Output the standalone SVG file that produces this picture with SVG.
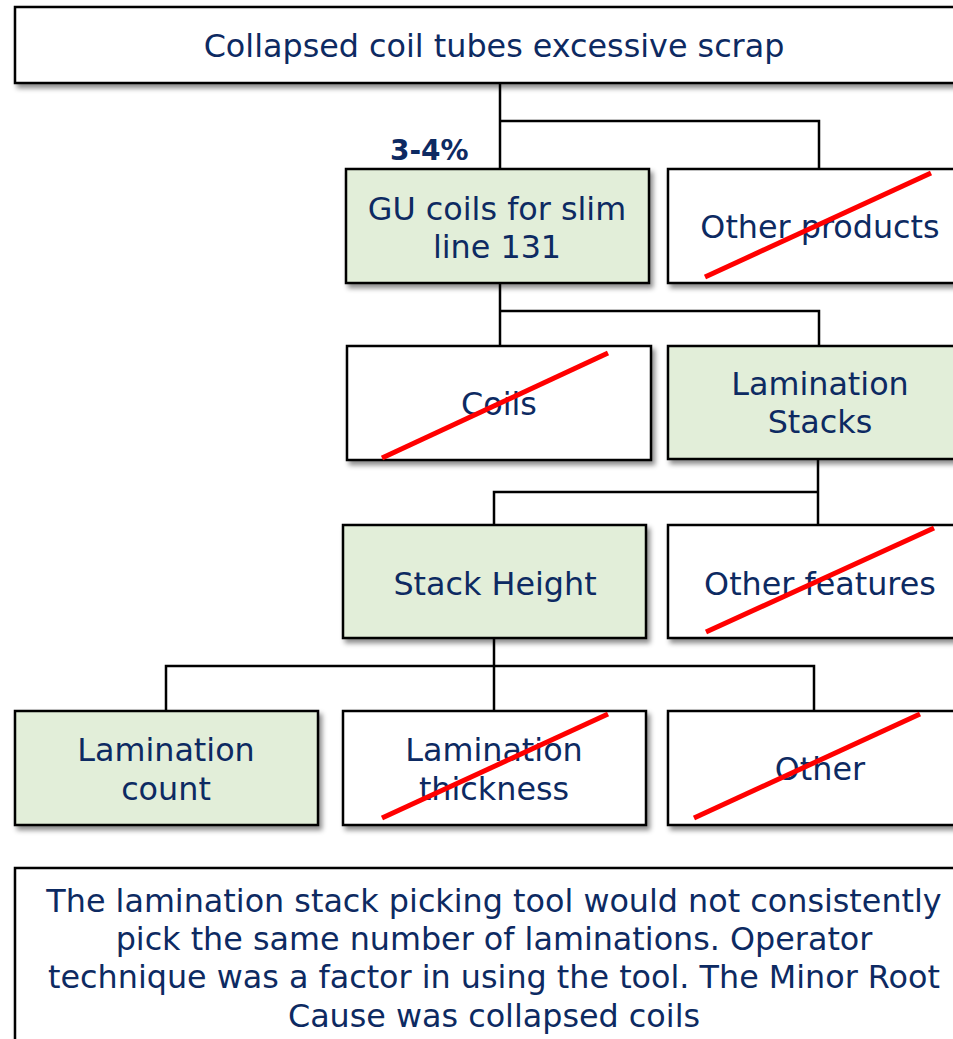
<svg xmlns="http://www.w3.org/2000/svg" width="953" height="1039" viewBox="0 0 953 1039">
<defs>
<filter id="sh" x="-10%" y="-10%" width="130%" height="140%">
<feDropShadow dx="3" dy="4" stdDeviation="2.5" flood-color="#000" flood-opacity="0.45"/>
</filter>
<style>
.box{stroke:#000;stroke-width:2.5;filter:url(#sh)}
.w{fill:#fff}
.g{fill:#e2eed9}
.t{font-family:"DejaVu Sans",Verdana,sans-serif;font-size:31.8px;fill:#0d2a62;text-anchor:middle}
.b{font-family:"DejaVu Sans",Verdana,sans-serif;font-size:28px;font-weight:bold;fill:#0d2a62}
.x{stroke:#ff0000;stroke-width:5;stroke-linecap:butt}
.c{fill:none;stroke:#000;stroke-width:2.5}
</style>
</defs>
<rect width="953" height="1039" fill="#fff"/>
<g id="connectors">
<polyline class="c" points="500,83 500,169"/>
<polyline class="c" points="500,121 819,121 819,169"/>
<polyline class="c" points="500,283 500,346"/>
<polyline class="c" points="500,311 819,311 819,346"/>
<polyline class="c" points="818,459 818,528"/>
<polyline class="c" points="818,492 494,492 494,525"/>
<polyline class="c" points="494,638 494,711"/>
<polyline class="c" points="166,711 166,666 814,666 814,711"/>
</g>
<g id="top">
<rect class="box w" x="15" y="7" width="950" height="76"/>
<text class="t" x="494" y="57">Collapsed coil tubes excessive scrap</text>
</g>
<g id="pct"><text class="b" x="390" y="160">3-4%</text></g>
<g id="gu">
<rect class="box g" x="346" y="169" width="303" height="114"/>
<text class="t" x="497" y="220">GU coils for slim</text>
<text class="t" x="497" y="258">line 131</text>
</g>
<g id="other-products">
<rect class="box w" x="668" y="169" width="300" height="114"/>
<text class="t" x="820" y="238">Other products</text>
<line class="x" x1="705" y1="277" x2="931" y2="173"/>
</g>
<g id="coils">
<rect class="box w" x="347" y="346" width="304" height="114"/>
<text class="t" x="499" y="415">Coils</text>
<line class="x" x1="382" y1="458" x2="608" y2="353"/>
</g>
<g id="lam-stacks">
<rect class="box g" x="668" y="346" width="300" height="113"/>
<text class="t" x="820" y="395">Lamination</text>
<text class="t" x="820" y="433">Stacks</text>
</g>
<g id="stack-height">
<rect class="box g" x="343" y="525" width="303" height="113"/>
<text class="t" x="495" y="595">Stack Height</text>
</g>
<g id="other-features">
<rect class="box w" x="668" y="525" width="300" height="113"/>
<text class="t" x="820" y="595">Other features</text>
<line class="x" x1="706" y1="632" x2="934" y2="528"/>
</g>
<g id="lam-count">
<rect class="box g" x="15" y="711" width="303" height="114"/>
<text class="t" x="166" y="761">Lamination</text>
<text class="t" x="166" y="800">count</text>
</g>
<g id="lam-thickness">
<rect class="box w" x="343" y="711" width="303" height="114"/>
<text class="t" x="494" y="761">Lamination</text>
<text class="t" x="494" y="800">thickness</text>
<line class="x" x1="382" y1="818" x2="608" y2="714"/>
</g>
<g id="other">
<rect class="box w" x="668" y="711" width="300" height="114"/>
<text class="t" x="820" y="780">Other</text>
<line class="x" x1="694" y1="818" x2="920" y2="714"/>
</g>
<g id="conclusion">
<rect class="box w" x="15" y="868" width="950" height="200"/>
<text class="t" x="494" y="912">The lamination stack picking tool would not consistently</text>
<text class="t" x="494" y="950">pick the same number of laminations. Operator</text>
<text class="t" x="494" y="988">technique was a factor in using the tool. The Minor Root</text>
<text class="t" x="494" y="1027">Cause was collapsed coils</text>
</g>
</svg>
